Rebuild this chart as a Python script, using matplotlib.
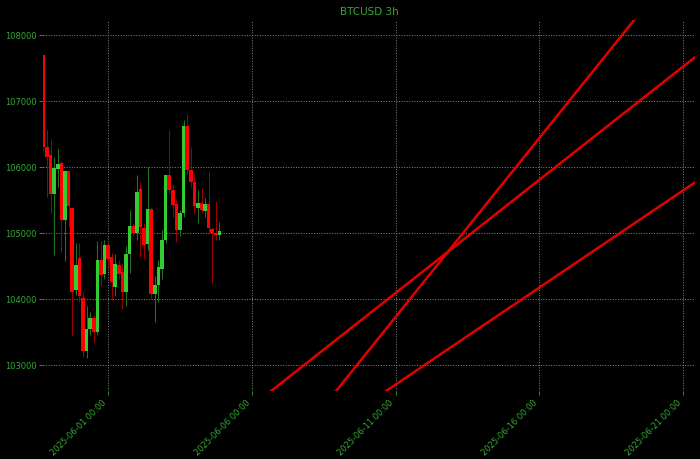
import pandas as pd
import matplotlib
matplotlib.use("Agg")
import matplotlib.pyplot as plt
import matplotlib.dates as mdates

# 3h candles, first one at 2025-05-29 18:00
start = "2025-05-29 18:00"
opens = [107700, 106310, 106177, 105600, 105965, 106070, 105200, 105940, 105380, 104137,
         104620, 104010, 103220, 103550, 103720, 103500, 104596, 104384, 104823, 104636,
         104182, 104510, 104409, 104106, 104687, 105101, 105000, 105672, 105081, 104838,
         105369, 104071, 104207, 104460, 104899, 105884, 105657, 105439, 105045, 105298,
         106621, 105955, 105778, 105374, 105450, 105338, 105440, 105056, 104995, 104970]
highs = [107700, 106560, 106430, 106150, 106270, 106100, 105950, 105960, 105400, 104850,
         104850, 104100, 103900, 103800, 103760, 104880, 104880, 104900, 104850, 104700,
         104680, 104600, 104550, 104800, 105350, 105150, 105874, 105773, 105150, 106000,
         105400, 104350, 104600, 105050, 105884, 106560, 105750, 105500, 105350, 106712,
         106803, 106300, 105900, 105650, 105680, 105530, 105939, 105100, 105480, 105170]
lows = [106250, 105550, 105300, 104670, 105700, 104720, 104570, 105100, 103450, 104060,
        103950, 103120, 103100, 103450, 103350, 103450, 104200, 104300, 104500, 103980,
        104050, 104300, 103850, 103900, 104400, 104950, 104900, 104636, 104611, 104750,
        104000, 103652, 103955, 104300, 104850, 105600, 105250, 104869, 104950, 105250,
        105900, 105700, 105300, 105150, 105300, 105250, 105000, 104247, 104900, 104900]
closes = [106310, 106150, 105600, 105980, 106040, 105200, 105940, 105406, 104110, 104518,
          104040, 103220, 103550, 103720, 103500, 104590, 104359, 104823, 104611, 104258,
          104535, 104384, 104106, 104687, 105101, 105000, 105626, 105091, 104813, 105369,
          104071, 104207, 104485, 104899, 105884, 105657, 105419, 105045, 105298, 106621,
          105955, 105778, 105409, 105450, 105348, 105440, 105071, 104995, 104970, 105035]

# trend lines: (start time, start price, end time, end price)
line_starts = ["2025-06-06 12:00", "2025-06-07 12:00", "2025-06-09 12:00"]
line_start_prices = [102548, 101831, 102262]
line_ends = ["2025-06-21 12:00", "2025-06-19 12:00", "2025-06-21 12:00"]
line_end_prices = [107695, 108339, 105793]

GREEN = "#33cc33"
RED = "#ff0000"
TXT = "#33aa33"


def main():
    times = pd.date_range(start, periods=len(opens), freq="3h")
    fig = plt.figure(figsize=(7, 4.59), dpi=100, facecolor="black")
    ax = fig.add_axes([0.062, 0.148, 0.931, 0.808], facecolor="black")

    x = mdates.date2num(times)
    w = 0.125
    for i in range(len(opens)):
        up = closes[i] >= opens[i]
        col = GREEN if up else RED
        wick = "#1f7a1f" if up else "#a00000"
        ax.vlines(x[i], lows[i], highs[i], color=wick, linewidth=0.7, zorder=2)
        lo = min(opens[i], closes[i])
        h = abs(closes[i] - opens[i])
        ax.bar(x[i], max(h, 8), bottom=lo, width=w, color=col, linewidth=0, zorder=3)

    for s, sp, e, ep in zip(line_starts, line_start_prices, line_ends, line_end_prices):
        ax.plot(mdates.date2num(pd.to_datetime([s, e])), [sp, ep], color="#e00000",
                linewidth=1.8, zorder=4)

    ax.set_xlim(x[0], mdates.date2num(pd.Timestamp("2025-06-21 10:05")))
    ax.set_ylim(102606, 108227)

    ax.xaxis.set_major_locator(mdates.DayLocator(bymonthday=[1, 6, 11, 16, 21]))
    ax.xaxis.set_major_formatter(mdates.DateFormatter("%Y-%m-%d %H:%M"))
    ax.set_yticks(range(103000, 108001, 1000))
    plt.setp(ax.get_xticklabels(), rotation=45, ha="right")
    ax.tick_params(axis="both", colors=TXT, length=3, width=0.6)
    ax.tick_params(axis="y", labelsize=6, pad=2)
    ax.tick_params(axis="x", labelsize=6, pad=2)

    ax.grid(True, color="#888888", linestyle=":", linewidth=0.7)
    ax.set_axisbelow(True)
    for sp in ax.spines.values():
        sp.set_visible(False)

    ax.set_title("BTCUSD 3h", color=TXT, fontsize=7.5, pad=4)
    fig.savefig("out.png", dpi=100, facecolor="black")


if __name__ == "__main__":
    main()
